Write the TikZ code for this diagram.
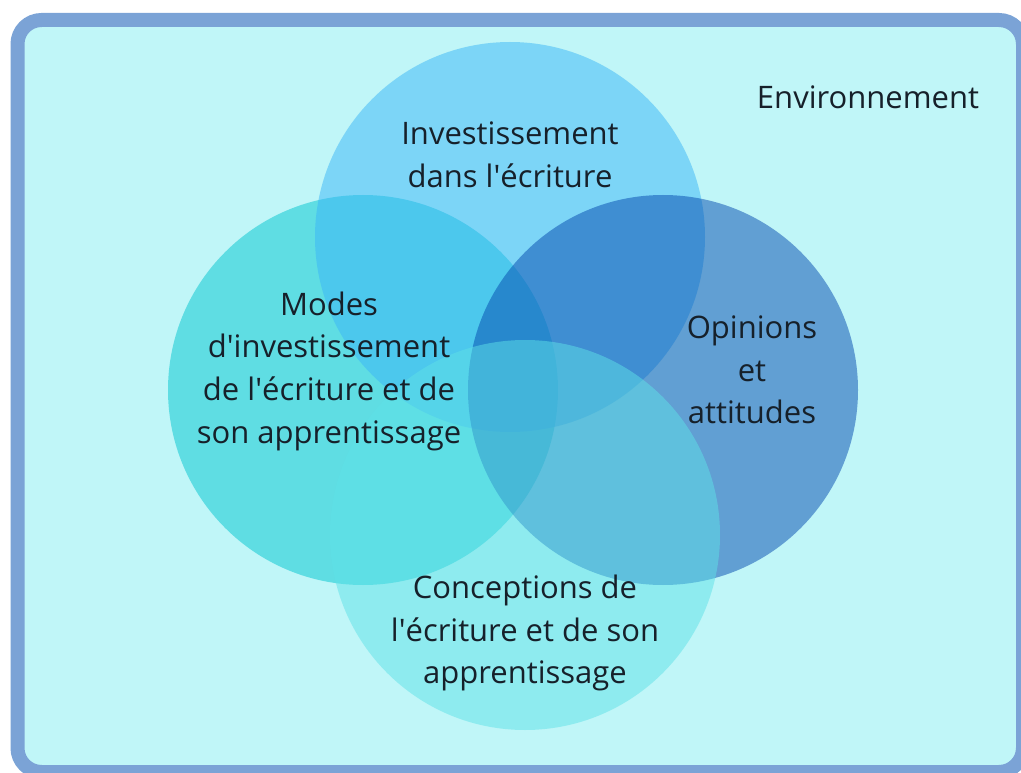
\documentclass[tikz,border=0pt]{standalone}
\usepackage{fontspec}
\setmainfont{Open Sans}
\definecolor{bgfill}{HTML}{C0F6F8}
\definecolor{bgborder}{HTML}{7BA3D6}
\definecolor{cleft}{HTML}{00C5CF}
\definecolor{ctop}{HTML}{3AB5F7}
\definecolor{cright}{HTML}{0449AF}
\definecolor{cbottom}{HTML}{5EE1E7}
\definecolor{txt}{HTML}{16202A}
\newcommand{\ap}{\textquotesingle}
\tikzset{
  venn/.style={fill opacity=0.5},
  lbl/.style={text=txt, align=center, font=\fontsize{31}{42.7}\selectfont, inner sep=0pt}
}
\begin{document}
\begin{tikzpicture}[x=1pt,y=-1pt]
\useasboundingbox (0,0) rectangle (1021,773);
\begin{scope}
\clip (0,0) rectangle (1021,773);
\draw[bgborder, line width=14pt, fill=bgfill, rounded corners=24pt] (17.5,20) rectangle (1023,772);
\fill[venn, cleft] (363,390) circle (195);
\fill[venn, ctop] (510,237) circle (195);
\fill[venn, cright] (663,390) circle (195);
\fill[venn, cbottom] (525,535) circle (195);
\end{scope}
\node[lbl] (top) at (510,155) {Investissement\\dans l\ap écriture};
\node[lbl] (left) at (329,371) {Modes\\d\ap investissement\\de l\ap écriture et de\\son apprentissage};
\node[lbl] (right) at (752,370) {Opinions\\et\\attitudes};
\node[lbl] (bottom) at (525,633) {Conceptions de\\l\ap écriture et de son\\apprentissage};
\node[lbl] (env) at (868,97) {Environnement};
\end{tikzpicture}
\end{document}
